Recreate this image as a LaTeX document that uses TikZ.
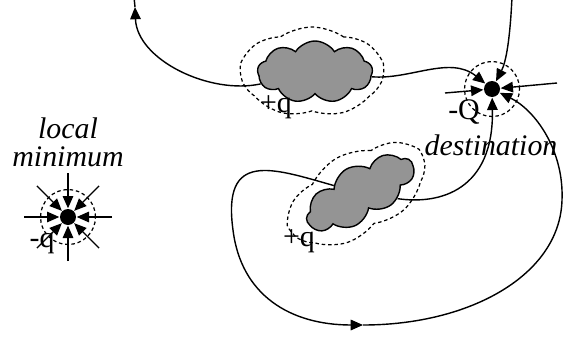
\documentclass[tikz,border=0pt]{standalone}
\usepackage{fontspec}
\setmainfont{Liberation Serif}
\usetikzlibrary{shapes.symbols,arrows.meta}

\begin{document}
\begin{tikzpicture}[x=0.02cm,y=-0.02cm,line width=0.8pt,
  every node/.style={font=\fontsize{17}{16}\selectfont, inner sep=0pt},
  obstacle/.style={cloud, cloud puffs=9, cloud puff arc=115, cloud ignores aspect,
                   draw, fill=black!42, line width=0.8pt},
  halo/.style={cloud, cloud puffs=7, cloud puff arc=70, cloud ignores aspect,
               draw, dash pattern=on 2pt off 1.6pt, line width=0.7pt},
  sink/.style={circle, fill=black, minimum size=0.32cm},
  zone/.style={circle, draw, dash pattern=on 2pt off 1.6pt, line width=0.7pt, minimum size=1.1cm},
  pull/.style={-{Triangle[length=7pt,width=6pt]}}]
  \useasboundingbox (0,0) rectangle (567,338);
  % obstacles (+q) with their dashed influence zones
  \node[halo, minimum width=2.85cm, minimum height=1.8cm] (cloudAhalo) at (312,72) {};
  \node[obstacle, minimum width=2.3cm, minimum height=1.24cm] (cloudA) at (315,72) {};
  \node[halo, rotate=30, minimum width=3.0cm, minimum height=1.65cm] (cloudBhalo) at (357,194) {};
  \node[obstacle, rotate=30, minimum width=2.4cm, minimum height=1.1cm] (cloudB) at (360,193) {};
  % attractors
  \node[zone] (destZone) at (492,89) {};
  \node[sink] (dest) at (492,89) {};
  \node[zone] (locminZone) at (68,217) {};
  \node[sink] (locmin) at (68,217) {};
  % free ends
  \coordinate (topArr) at (135,7);
  \coordinate (topEnd) at (134,-3);
  \coordinate (topC) at (512,-3);
  \coordinate (destL) at (445,93);
  \coordinate (destR) at (557,83);
  \coordinate (loopArr) at (363,325);
  % labels
  \node[align=center, font=\fontsize{17}{16}\selectfont\itshape] (lblLocal) at (68,142) {local\\minimum};
  \node[font=\fontsize{17}{16}\selectfont\itshape] (lblDest) at (491,145) {destination};
  \node (lblQ) at (464,112) {-Q};
  \node (lblqL) at (42,243) {-q};
  \node (lblqA) at (276,107) {+q};
  \node (lblqB) at (299,241) {+q};
  % local minimum: field lines from all sides
  \foreach \a in {0,45,...,315}
    \draw[pull] ([shift={(\a:44)}]locmin.center) -- (locmin);
  % destination
  \draw[pull] (destL) -- (dest);
  \draw[pull] (destR) -- (dest);
  \draw[pull] (topC) .. controls (510,40) and (506,62) .. (dest);
  \draw[pull] (cloudA) .. controls (410,80) and (450,55) .. (dest);
  \draw[pull] (cloudA) .. controls (210,95) and (137,60) .. (topArr);
  \draw (topArr) -- (topEnd);
  \draw[pull] (cloudB) .. controls (440,205) and (494,190) .. (dest);
  \draw[pull] (cloudB) .. controls (272,168) and (222,150) .. (233,230)
    .. controls (241,295) and (290,325) .. (loopArr);
  \draw[pull] (loopArr) .. controls (470,325) and (560,275) .. (562,200)
    .. controls (564,150) and (535,110) .. (dest);
\end{tikzpicture}
\end{document}
